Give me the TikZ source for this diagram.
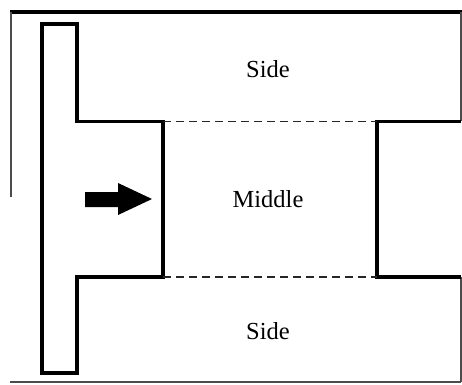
\documentclass[tikz,border=0pt]{standalone}
\usepackage{fontspec}
\setmainfont{Liberation Serif}
\begin{document}
\begin{tikzpicture}[x=1pt,y=-1pt,
  thickline/.style={line width=3.8pt,line join=miter,black},
  thinline/.style={line width=1.3pt,black!70},
  dashline/.style={line width=1.4pt,dash pattern=on 8pt off 5pt,black!85},
  lbl/.style={font=\fontsize{24.5}{28}\selectfont,inner sep=0pt}]
\useasboundingbox (0,0) rectangle (462,384);
% outer frame
\coordinate (tl) at (10,12);
\coordinate (tr) at (462,12);
\coordinate (lb) at (11,197);
\coordinate (bl) at (10,382);
\coordinate (br) at (461,382);
\draw[line width=3.8pt] (tl) -- (tr);
\draw[thinline] (11,12) -- (lb);
\draw[thinline] (bl) -- (br);
\draw[thinline] (461,12) -- (461,121);
\draw[thinline] (461,277) -- (br);
% right block
\coordinate (rt) at (377,121.5);
\coordinate (rb) at (377,277);
\draw[thickline] (461,121.5) -- (rt) -- (rb) -- (461,277);
% T shape
\coordinate (mt) at (163,121.5);
\coordinate (mb) at (163,277);
\draw[thickline] (42,24) -- (77,24) -- (77,121.5) -- (mt) -- (mb) -- (77,277) -- (77,373) -- (42,373) -- cycle;
% dashed
\draw[dashline] (mt) -- (rt);
\draw[dashline] (mb) -- (rb);
% arrow
\fill[black] (85,192) -- (118,192) -- (118,183) -- (152,199) -- (118,215) -- (118,207) -- (85,207) -- cycle;
% labels
\node[lbl,anchor=base] (s1) at (268,77) {Side};
\node[lbl,anchor=base] (m) at (268,207) {Middle};
\node[lbl,anchor=base] (s2) at (268,339) {Side};
\end{tikzpicture}
\end{document}
